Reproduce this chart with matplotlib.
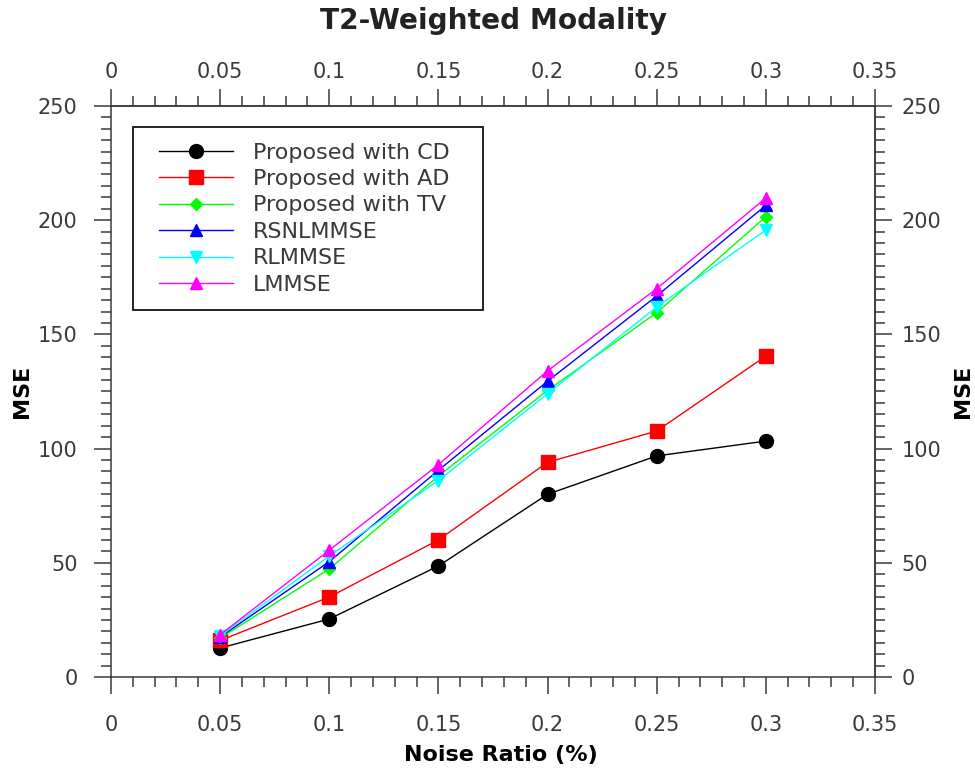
import matplotlib.pyplot as plt
from matplotlib.patches import Rectangle
from matplotlib.ticker import MultipleLocator, FuncFormatter

noise = [0.05, 0.1, 0.15, 0.2, 0.25, 0.3]
cd = [12.7, 25.4, 48.6, 80.0, 96.8, 103.3]
ad = [16.0, 35.0, 60.0, 94.0, 107.7, 140.5]
tv = [17.0, 47.3, 88.0, 125.5, 159.5, 201.5]
rsnlmmse = [17.5, 50.5, 90.5, 129.5, 166.8, 206.5]
rlmmse = [18.0, 53.0, 86.0, 124.0, 162.0, 195.7]
lmmse = [18.5, 55.5, 93.0, 134.0, 170.0, 209.7]

series = [
    ("Proposed with CD", cd, "black", "o", 10),
    ("Proposed with AD", ad, "red", "s", 9.5),
    ("Proposed with TV", tv, "#00ff00", "D", 6.5),
    ("RSNLMMSE", rsnlmmse, "blue", "^", 9),
    ("RLMMSE", rlmmse, "cyan", "v", 9),
    ("LMMSE", lmmse, "magenta", "^", 9),
]

gray = "#3a3a3a"
plt.rcParams["font.family"] = "DejaVu Sans"

fig = plt.figure(figsize=(9.75, 7.69), dpi=100)
ax = fig.add_axes([0.1138, 0.1196, 0.7836, 0.7426])

for name, vals, col, mk, ms in series:
    ax.plot(noise, vals, color=col, marker=mk, markersize=ms, linewidth=1.0,
            label=name)

ax.set_xlim(0, 0.35)
ax.set_ylim(0, 250)


def xfmt(v, pos=None):
    return "%g" % round(v, 4)


ax.xaxis.set_major_locator(MultipleLocator(0.05))
ax.xaxis.set_minor_locator(MultipleLocator(0.01))
ax.xaxis.set_major_formatter(FuncFormatter(xfmt))
ax.yaxis.set_major_locator(MultipleLocator(50))
ax.yaxis.set_minor_locator(MultipleLocator(5))

secx = ax.secondary_xaxis("top")
secx.xaxis.set_major_locator(MultipleLocator(0.05))
secx.xaxis.set_minor_locator(MultipleLocator(0.01))
secx.xaxis.set_major_formatter(FuncFormatter(xfmt))
secy = ax.secondary_yaxis("right")
secy.yaxis.set_major_locator(MultipleLocator(50))
secy.yaxis.set_minor_locator(MultipleLocator(5))

for a in (ax, secx, secy):
    a.tick_params(which="major", direction="out", length=12, width=1.1,
                  color=gray, labelsize=15, labelcolor=gray)
    a.tick_params(which="minor", direction="out", length=7, width=1.1,
                  color=gray)
    for sp in a.spines.values():
        sp.set_color(gray)
        sp.set_linewidth(1.1)

ax.tick_params(axis="x", which="major", pad=15)
ax.tick_params(axis="y", which="major", pad=12)
secx.tick_params(axis="x", which="major", pad=5)
secy.tick_params(axis="y", which="major", pad=7)

ax.set_xlabel("Noise Ratio (%)", fontsize=16, fontweight="bold")
ax.xaxis.set_label_coords(0.511, -0.119)
ax.set_ylabel("MSE", fontsize=16, fontweight="bold", labelpad=4)
secy.set_ylabel("MSE", fontsize=16, fontweight="bold", labelpad=8.5)
fig.text(0.506, 0.973, "T2-Weighted Modality", ha="center", va="center",
         fontsize=20.2, fontweight="bold", color="#222222")

leg = ax.legend(loc="upper left", bbox_to_anchor=(0.1473, 0.8349),
                bbox_transform=fig.transFigure, fontsize=16, frameon=False,
                handlelength=3.33, borderpad=0.7, labelspacing=0.29,
                handletextpad=0.9, borderaxespad=0)
for t in leg.get_texts():
    t.set_color(gray)

# legend frame drawn by hand: wider padding at the sides than top/bottom
fig.canvas.draw()
bb = leg.get_window_extent(fig.canvas.get_renderer())
frame = Rectangle((bb.x0 - 11, bb.y0), bb.width + 29, bb.height,
                  transform=None, facecolor="white", edgecolor="black",
                  linewidth=1.2, zorder=4.5)
ax.add_artist(frame)

fig.savefig("out.png", dpi=100)
